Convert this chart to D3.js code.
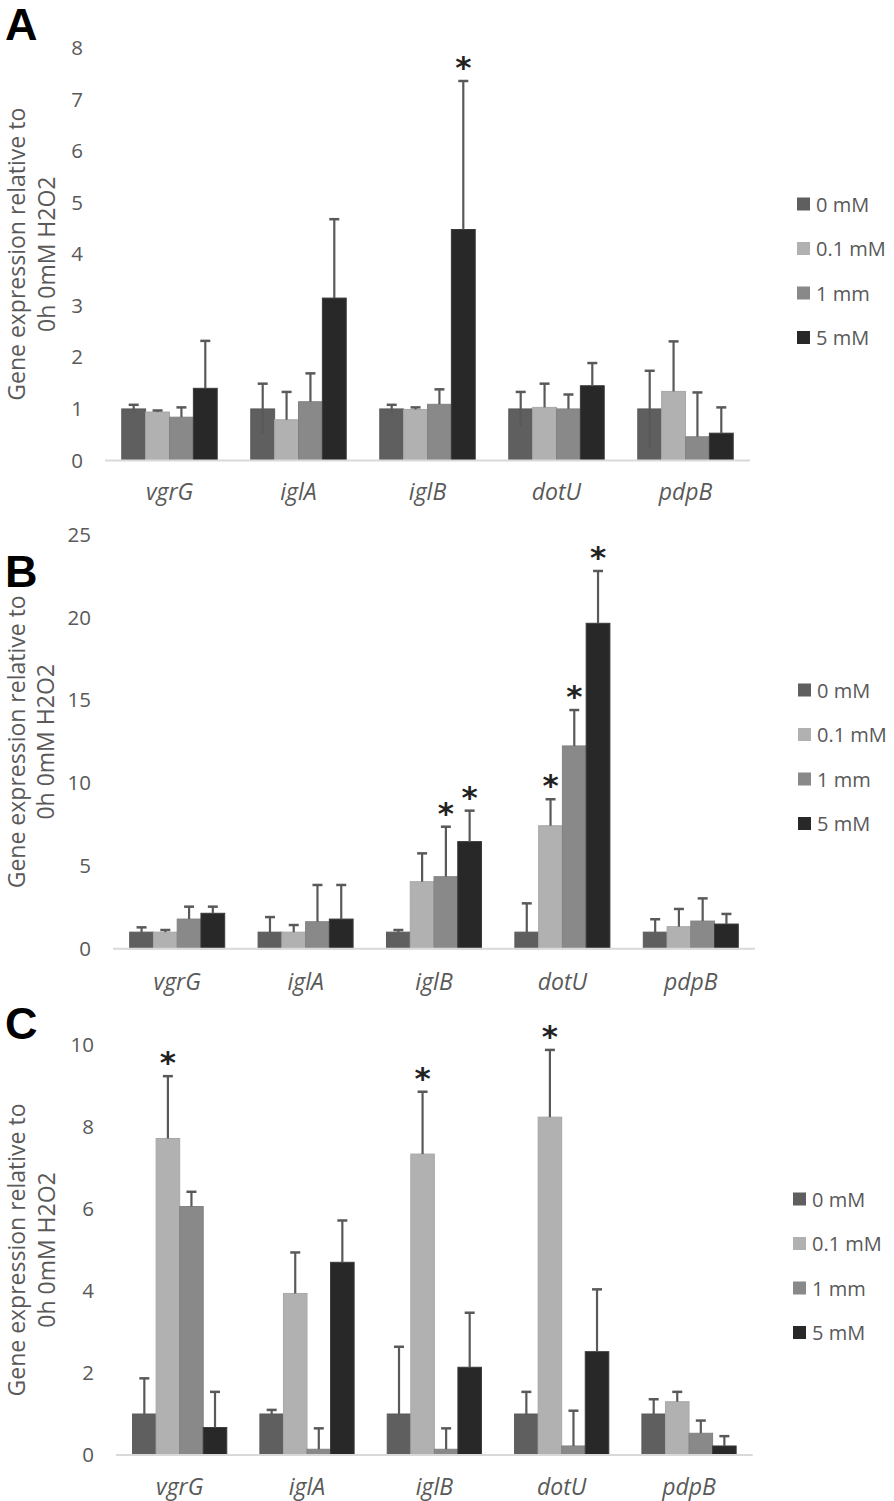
<!DOCTYPE html>
<html><head><meta charset="utf-8">
<script src="https://cdn.jsdelivr.net/npm/d3@7"></script>
<style>
html,body{margin:0;padding:0;background:#fff;}
svg{display:block;}
</style></head>
<body>
<svg id="chart" width="894" height="1501"></svg>
<script>
// ---- data ----
const genes = ["vgrG", "iglA", "iglB", "dotU", "pdpB"];
const doses = ["0 mM", "0.1 mM", "1 mm", "5 mM"];
const doseColors = ["#5f5f5f", "#b1b1b1", "#898989", "#282828"];

// Panel A (rows = genes, cols = doses)
const meanA = [
  [1.00, 0.94, 0.84, 1.40],
  [1.00, 0.79, 1.14, 3.15],
  [1.00, 0.99, 1.09, 4.48],
  [1.00, 1.03, 1.00, 1.45],
  [1.00, 1.34, 0.46, 0.53]
];
const errA = [
  [0.08, 0.03, 0.19, 0.92],
  [0.49, 0.54, 0.55, 1.53],
  [0.08, 0.04, 0.29, 2.88],
  [0.33, 0.46, 0.28, 0.44],
  [0.74, 0.97, 0.86, 0.50]
];
const sigA = [[2, 3]];
const ticksA = [0, 1, 2, 3, 4, 5, 6, 7, 8];

// Panel B
const meanB = [
  [1.00, 1.00, 1.79, 2.14],
  [1.00, 1.00, 1.63, 1.79],
  [1.00, 4.05, 4.35, 6.47],
  [1.00, 7.43, 12.25, 19.66],
  [1.00, 1.33, 1.67, 1.49]
];
const errB = [
  [0.29, 0.13, 0.75, 0.40],
  [0.91, 0.43, 2.22, 2.06],
  [0.13, 1.71, 3.02, 1.87],
  [1.74, 1.60, 2.17, 3.16],
  [0.78, 1.07, 1.37, 0.61]
];
const sigB = [[2, 2], [2, 3], [3, 1], [3, 2], [3, 3]];
const ticksB = [0, 5, 10, 15, 20, 25];

// Panel C
const meanC = [
  [1.00, 7.72, 6.06, 0.67],
  [1.00, 3.94, 0.14, 4.70],
  [1.00, 7.34, 0.14, 2.14],
  [1.00, 8.24, 0.22, 2.52],
  [1.00, 1.30, 0.53, 0.22]
];
const errC = [
  [0.87, 1.52, 0.36, 0.87],
  [0.10, 1.00, 0.51, 1.02],
  [1.64, 1.52, 0.51, 1.33],
  [0.54, 1.64, 0.86, 1.52],
  [0.36, 0.24, 0.31, 0.24]
];
const sigC = [[0, 1], [2, 1], [3, 1]];
const ticksC = [0, 2, 4, 6, 8, 10];

const yTitle1 = "Gene expression relative to";
const yTitle2 = "0h 0mM H2O2";

// ---- layout ----
const panels = [
  {letter: "A", mean: meanA, err: errA, sig: sigA, ticks: ticksA, minus0: true,
   x0: 105, x1: 750, yBase: 460.5, yTopPx: 48, letterY: 40,
   title1X: 25, title2X: 55, catY: 500, legX: 797, legY: 204},
  {letter: "B", mean: meanB, err: errB, sig: sigB, ticks: ticksB, minus0: false,
   x0: 113, x1: 755, yBase: 948.7, yTopPx: 534.9, letterY: 587,
   title1X: 24.5, title2X: 54, catY: 990, legX: 798, legY: 690},
  {letter: "C", mean: meanC, err: errC, sig: sigC, ticks: ticksC, minus0: false,
   x0: 116, x1: 752.7, yBase: 1455, yTopPx: 1045, letterY: 1039,
   title1X: 25, title2X: 55, catY: 1495, legX: 793, legY: 1199}
];

const svg = d3.select("#chart");
const FONT = "'Open Sans', 'Noto Sans', sans-serif";

panels.forEach(p => {
  const g = svg.append("g");
  const tMax = p.ticks[p.ticks.length - 1];
  const y = d3.scaleLinear().domain([0, tMax]).range([p.yBase, p.yTopPx]);
  const x = d3.scaleBand().domain(genes).range([p.x0, p.x1]).padding(0);
  const step = x.bandwidth();
  const xs = d3.scaleBand().domain(doses).range([step * 0.13, step * 0.87]).padding(0);

  // panel letter
  g.append("text").attr("x", 5).attr("y", p.letterY)
    .attr("font-family", "'Liberation Sans', Arial, sans-serif")
    .attr("font-weight", "bold").attr("font-size", 45).attr("fill", "#000")
    .text(p.letter);

  // y axis (labels only)
  const yAxis = d3.axisLeft(y).tickValues(p.ticks).tickSize(0).tickPadding(0);
  const ya = g.append("g").attr("transform", `translate(${p.x0 - 22},0)`).call(yAxis);
  ya.select(".domain").remove();
  ya.selectAll("text").attr("font-family", FONT).attr("font-size", 20.5)
    .attr("fill", "#595959");

  // y title
  const cy = (p.yBase + p.yTopPx) / 2;
  g.append("text").attr("transform", `translate(${p.title1X},${cy}) rotate(-90)`)
    .attr("text-anchor", "middle").attr("font-family", FONT).attr("font-size", 23)
    .attr("fill", "#595959").text(yTitle1);
  g.append("text").attr("transform", `translate(${p.title2X},${cy}) rotate(-90)`)
    .attr("text-anchor", "middle").attr("font-family", FONT).attr("font-size", 23)
    .attr("fill", "#595959").text(yTitle2);

  // bars
  const groups = g.selectAll(".grp").data(genes).join("g")
    .attr("transform", d => `translate(${x(d)},0)`);
  groups.each(function(gene, gi) {
    const gg = d3.select(this);
    doses.forEach((dose, di) => {
      const v = p.mean[gi][di];
      gg.append("rect")
        .attr("x", xs(dose)).attr("width", xs.bandwidth())
        .attr("y", y(v)).attr("height", y(0) - y(v))
        .attr("fill", doseColors[di])
        .attr("stroke", di === 3 ? "#3a3a3a" : d3.color(doseColors[di]).darker(0.15))
        .attr("stroke-width", 1);
    });
  });

  // axis baseline
  g.append("line").attr("x1", p.x0).attr("x2", p.x1)
    .attr("y1", y(0)).attr("y2", y(0))
    .attr("stroke", "#d9d9d9").attr("stroke-width", 2);

  // error bars
  groups.each(function(gene, gi) {
    const gg = d3.select(this);
    doses.forEach((dose, di) => {
      const v = p.mean[gi][di], e = p.err[gi][di];
      const cx = xs(dose) + xs.bandwidth() / 2;
      const lo = (p.minus0 && di === 0) ? v - e : v;
      gg.append("line").attr("x1", cx).attr("x2", cx)
        .attr("y1", y(lo)).attr("y2", y(v + e))
        .attr("stroke", "#595959").attr("stroke-width", 2.2);
      gg.append("line").attr("x1", cx - 5).attr("x2", cx + 5)
        .attr("y1", y(v + e)).attr("y2", y(v + e))
        .attr("stroke", "#595959").attr("stroke-width", 2.5);
    });
  });

  // significance asterisks
  p.sig.forEach(([gi, di]) => {
    const v = p.mean[gi][di] + p.err[gi][di];
    g.append("text")
      .attr("x", x(genes[gi]) + xs(doses[di]) + xs.bandwidth() / 2)
      .attr("y", y(v) - 3)
      .attr("text-anchor", "middle")
      .attr("font-family", "'DejaVu Sans', sans-serif")
      .attr("font-weight", "bold")
      .attr("font-size", 31).attr("fill", "#222")
      .text("*");
  });

  // category labels
  const xAxis = d3.axisBottom(x).tickSize(0).tickPadding(0);
  const xa = g.append("g").attr("transform", `translate(0,${p.catY})`).call(xAxis);
  xa.select(".domain").remove();
  xa.selectAll("text").attr("dy", 0).attr("font-family", FONT).attr("font-size", 23)
    .attr("font-style", "italic").attr("fill", "#595959");

  // legend
  const leg = g.append("g").attr("transform", `translate(${p.legX},${p.legY})`);
  doses.forEach((dose, di) => {
    const row = leg.append("g").attr("transform", `translate(0,${di * 44.5})`);
    row.append("rect").attr("x", 0).attr("y", -6.5).attr("width", 13).attr("height", 13)
      .attr("fill", doseColors[di]);
    row.append("text").attr("x", 19).attr("y", 7.5).attr("font-family", FONT)
      .attr("font-size", 20).attr("fill", "#595959").text(dose);
  });
});
</script>
</body></html>
